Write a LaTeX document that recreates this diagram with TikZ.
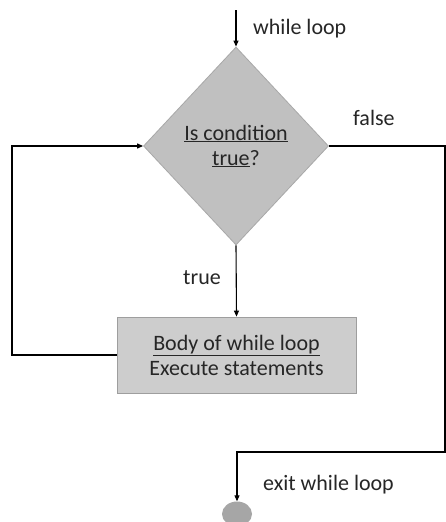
\documentclass[tikz,border=0pt]{standalone}
\usepackage{fontspec}
\setmainfont{Carlito}
\usetikzlibrary{shapes.geometric,arrows.meta}
\definecolor{txt}{HTML}{262626}
\definecolor{dfill}{HTML}{C0C0C0}
\definecolor{dline}{HTML}{A8A8A8}
\definecolor{rfill}{HTML}{CDCDCD}
\definecolor{rline}{HTML}{9E9E9E}
\definecolor{cfill}{HTML}{A6A6A6}
\tikzset{
  arr/.style={draw=black, line width=1.1pt, -{Triangle[length=6pt,width=5pt]}},
  ln/.style={draw=black, line width=1.1pt},
  lbl/.style={anchor=west, text=txt, inner sep=0pt, font=\fontsize{22}{26}\selectfont},
  decision/.style={diamond, fill=dfill, draw=dline, line width=0.8pt, minimum width=185pt, minimum height=198pt, inner sep=0pt, align=center, text=txt, font=\fontsize{22}{25}\selectfont},
  bodybox/.style={rectangle, fill=rfill, draw=rline, line width=0.8pt, minimum width=239pt, minimum height=76pt, inner sep=0pt, align=center, text=txt, font=\fontsize{22}{25}\selectfont},
  endpt/.style={ellipse, fill=cfill, draw=none, minimum width=30pt, minimum height=25pt, inner sep=0pt}
}
\begin{document}
\begin{tikzpicture}[x=1pt,y=-1pt]
\useasboundingbox (0,0) rectangle (446,522);
\clip (0,0) rectangle (446,522);
\fill[white] (0,0) rectangle (446,522);
\coordinate (start) at (236,10);
\node[decision] (cond) at (236,146) {\underline{Is condition}\\\underline{true}?};
\node[bodybox] (body) at (236.5,355) {\underline{Body of while loop}\\Execute statements};
\node[endpt] (endc) at (237,514) {};
\coordinate (rt) at (445,146);
\coordinate (rb) at (445,452);
\coordinate (lp) at (12,355);
\draw[arr] (start) -- (cond.north);
\draw[arr] (cond.south) -- (body.north);
\draw[arr] (body.west) -- (lp) |- (cond.west);
\draw[arr] (cond.east) -- (rt) -- (rb) -| (endc.north);
\node[lbl] (lwhile) at (253,29) {while loop};
\node[lbl] (lfalse) at (353,118) {false};
\node[lbl] (ltrue) at (183,278) {true};
\node[lbl] (lexit) at (263,485) {exit while loop};
\end{tikzpicture}
\end{document}
